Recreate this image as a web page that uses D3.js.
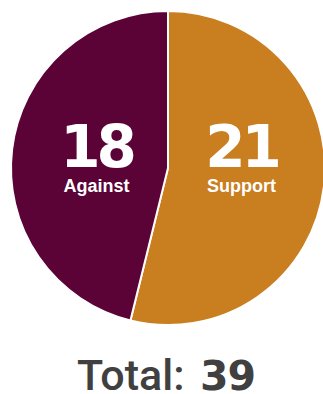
<!DOCTYPE html>
<html><head><meta charset="utf-8">
<script src="https://cdn.jsdelivr.net/npm/d3@7"></script>
<style>html,body{margin:0;padding:0;background:#fff;}</style>
</head><body>
<svg id="c" width="323" height="394"></svg>
<script>
const categories = ["Support", "Against"];
const values = [21, 18];
const colors = ["#C97E1F", "#5B0337"];
const totalLabel = "Total:";

const svg = d3.select("#c");
const cx = 168, cy = 168, r = 157;
const pie = d3.pie().sort(null).value(d => d.v);
const data = categories.map((c, i) => ({c, v: values[i], col: colors[i]}));
const arcs = pie(data);
const arc = d3.arc().innerRadius(0).outerRadius(r);
const g = svg.append("g").attr("transform", `translate(${cx},${cy})`);
g.selectAll("path").data(arcs).enter().append("path")
  .attr("d", arc).attr("fill", d => d.data.col)
  .attr("stroke", "#fff").attr("stroke-width", 2);

const labelPos = {Support: 241.5, Against: 96.5};
arcs.forEach(a => {
  const x = labelPos[a.data.c];
  svg.append("text").attr("x", x).attr("y", 167)
    .attr("text-anchor", "middle")
    .attr("font-family", "DejaVu Sans").attr("font-weight", "bold")
    .attr("font-size", 58).attr("letter-spacing", -4)
    .attr("fill", "#fff").text(a.data.v);
  svg.append("text").attr("x", x).attr("y", 192)
    .attr("text-anchor", "middle")
    .attr("font-family", "Liberation Sans").attr("font-weight", "bold")
    .attr("font-size", 18)
    .attr("fill", "#fff").text(a.data.c);
});

const total = d3.sum(values);
const t = svg.append("text").attr("x", 77).attr("y", 390)
  .attr("fill", "#404040");
t.append("tspan").attr("font-family", "Roboto").attr("font-weight", 500).attr("font-size", 43).text(totalLabel);
t.append("tspan").attr("x", 200).attr("font-family", "DejaVu Sans").attr("font-weight", "bold")
  .attr("font-size", 41).attr("letter-spacing", -1).text(total);
</script>
</body></html>
